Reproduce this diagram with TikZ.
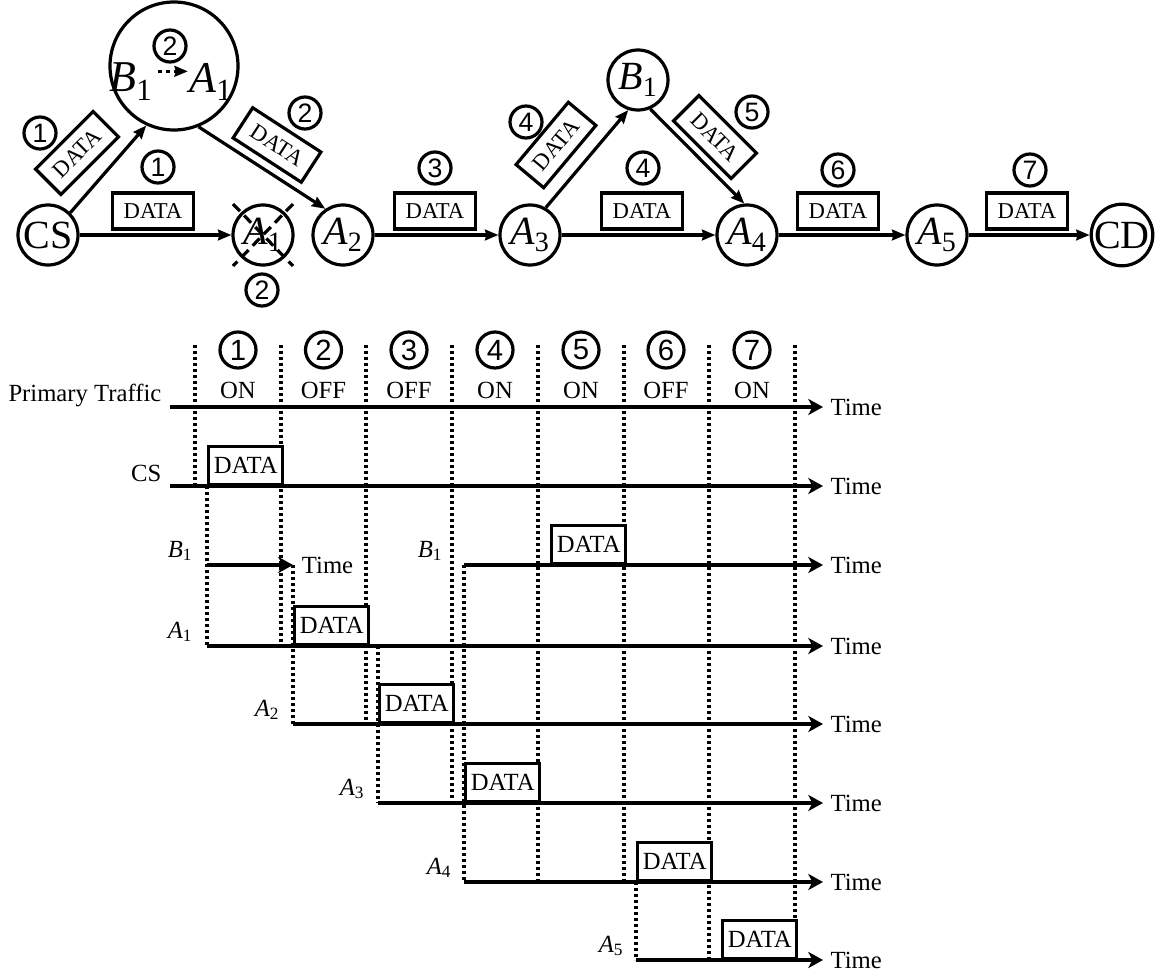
\documentclass[tikz,border=0pt]{standalone}
\usepackage{fontspec}
\setmainfont{Liberation Serif}
\newfontfamily\numfont{Liberation Sans}
\usetikzlibrary{arrows.meta, calc}
\tikzset{
  >={Stealth[length=10pt, width=8pt, inset=1pt]},
  stn/.style={circle, draw, line width=2.4pt, inner sep=0pt, minimum size=45pt,
              font=\fontsize{30}{30}\selectfont},
  pkt/.style={rectangle, draw, line width=2.4pt, fill=white, minimum width=61pt,
              minimum height=27pt, inner sep=1pt, font=\fontsize{17}{17}\selectfont},
  num/.style={circle, draw, line width=2.4pt, inner sep=0pt, minimum size=24pt,
              font=\numfont\fontsize{20}{20}\selectfont},
  tnum/.style={num, minimum size=27pt, font=\numfont\fontsize{22}{22}\selectfont},
  link/.style={->, line width=2.4pt},
  axis/.style={line width=2.8pt, -{Stealth[length=11pt, width=12pt, inset=3pt]}},
  slot/.style={line width=2.6pt, dash pattern=on 2.3pt off 2.2pt},
  tbox/.style={rectangle, draw, line width=2.6pt, fill=white, anchor=south west,
               minimum width=55.5pt, minimum height=28.5pt, inner sep=0pt,
               font=\fontsize{18.5}{18.5}\selectfont},
  lbl/.style={font=\fontsize{18.5}{18.5}\selectfont},
}
\newcommand{\nsub}[2]{\textit{#1}\textsubscript{#2}}

\begin{document}
\begin{tikzpicture}[x=0.75pt, y=-0.75pt]
  \path[use as bounding box, fill=white] (0,0) rectangle (1170,977);

  % relay path
  \node[stn] (cs) at (48,235) {CS};
  \node[stn] (a1x) at (263,235) {\nsub{A}{1}};
  \node[stn, minimum size=96pt] (big) at (174,66) {};
  \node[stn] (a2) at (343,235) {\nsub{A}{2}};
  \node[stn] (a3) at (530,235) {\nsub{A}{3}};
  \node[stn] (b1) at (638,80) {\nsub{B}{1}};
  \node[stn] (a4) at (747,235) {\nsub{A}{4}};
  \node[stn] (a5) at (937,235) {\nsub{A}{5}};
  \node[stn, minimum size=43pt] (cd) at (1122,235) {CD};

  \node[inner sep=1pt, font=\fontsize{33}{33}\selectfont] (bin) at (131,82) {\nsub{B}{1}};
  \node[inner sep=1pt, font=\fontsize{33}{33}\selectfont] (ain) at (211,82) {\nsub{A}{1}};
  \draw[->, dashed, line width=2.2pt, shorten <=3pt] ([yshift=8pt]bin.east) -- ([yshift=8pt]ain.west);
  \node[num] (n2in) at (170,46) {2};

  \draw[line width=2.4pt, dash pattern=on 7.5pt off 4.5pt] ($(a1x)+(-30,-31)$) -- ($(a1x)+(30,31)$);
  \draw[line width=2.4pt, dash pattern=on 7.5pt off 4.5pt] ($(a1x)+(30,-31)$) -- ($(a1x)+(-30,31)$);

  \draw[link] (cs) -- (a1x);
  \draw[link] (cs.45) -- (big.245);
  \draw[link] (big.292) -- (a2.124);
  \draw[link] (a2) -- (a3);
  \draw[link] (a3.60) -- (b1.252);
  \draw[link] (b1.293) -- (a4.95);
  \draw[link] (a3) -- (a4);
  \draw[link] (a4) -- (a5);
  \draw[link] (a5) -- (cd);

  \node[pkt, rotate=45] (p1a) at (77,153) {DATA};
  \node[num] (n1a) at (40,133) {1};
  \node[pkt] (p1b) at (153,211) {DATA};
  \node[num] (n1b) at (158,167) {1};
  \node[num] (n2x) at (262,290) {2};
  \node[pkt, rotate=-33] (p2) at (277,145) {DATA};
  \node[num] (n2) at (305,113) {2};
  \node[pkt] (p3) at (435,211) {DATA};
  \node[num] (n3) at (435,168) {3};
  \node[pkt, rotate=50] (p4a) at (556,145) {DATA};
  \node[num] (n4a) at (526,122) {4};
  \node[pkt] (p4b) at (642,211) {DATA};
  \node[num] (n4b) at (643,168) {4};
  \node[pkt, rotate=-45] (p5) at (715,137) {DATA};
  \node[num] (n5) at (752,112) {5};
  \node[pkt] (p6) at (838,211) {DATA};
  \node[num] (n6) at (838,170) {6};
  \node[pkt] (p7) at (1027,211) {DATA};
  \node[num] (n7) at (1030,170) {7};

  % timing
  \foreach \x/\b in {195/486, 281/646, 366/724, 452/803, 538/882, 624/882, 709/960, 795/960}
    \draw[slot] (\x,345) -- (\x,\b);
  \foreach \x/\a/\b in {207/486/646, 293/565/724, 378/646/803, 464/565/882, 636/882/960}
    \draw[slot] (\x,\a) -- (\x,\b);

  \foreach \c/\n/\s in {238/1/ON, 323.5/2/OFF, 409/3/OFF, 495/4/ON, 581/5/ON, 666/6/OFF, 752/7/ON}{
    \node[tnum] (c\n) at (\c,350) {\n};
    \node[lbl, anchor=base] (st\n) at (\c,398) {\s};
  }

  \foreach \x/\y in {170/407, 170/486, 464/565, 207/646, 293/724, 378/803, 464/882, 636/960}
    \draw[axis] (\x,\y) -- (823,\y) node[lbl, right=1pt] {Time};
  \draw[axis] (207,565) -- (293,565) node[lbl, right=2pt] {Time};

  \node[lbl, anchor=base east] (rpt) at (166,401) {Primary Traffic};
  \node[lbl, anchor=base east] (rcs) at (166,481) {CS};
  \node[lbl, anchor=base east] (rb1) at (197,557) {\nsub{B}{1}};
  \node[lbl, anchor=base east] (rb1b) at (447,557) {\nsub{B}{1}};
  \node[lbl, anchor=base east] (ra1) at (197,638) {\nsub{A}{1}};
  \node[lbl, anchor=base east] (ra2) at (284,716) {\nsub{A}{2}};
  \node[lbl, anchor=base east] (ra3) at (369,795) {\nsub{A}{3}};
  \node[lbl, anchor=base east] (ra4) at (456,874) {\nsub{A}{4}};
  \node[lbl, anchor=base east] (ra5) at (628,952) {\nsub{A}{5}};

  \node[tbox] (dcs) at (207,486) {DATA};
  \node[tbox] (da1) at (293,646) {DATA};
  \node[tbox] (da2) at (378,724) {DATA};
  \node[tbox] (da3) at (464,803) {DATA};
  \node[tbox] (db1) at (550,565) {DATA};
  \node[tbox] (da4) at (636,882) {DATA};
  \node[tbox] (da5) at (721,960) {DATA};
\end{tikzpicture}
\end{document}
